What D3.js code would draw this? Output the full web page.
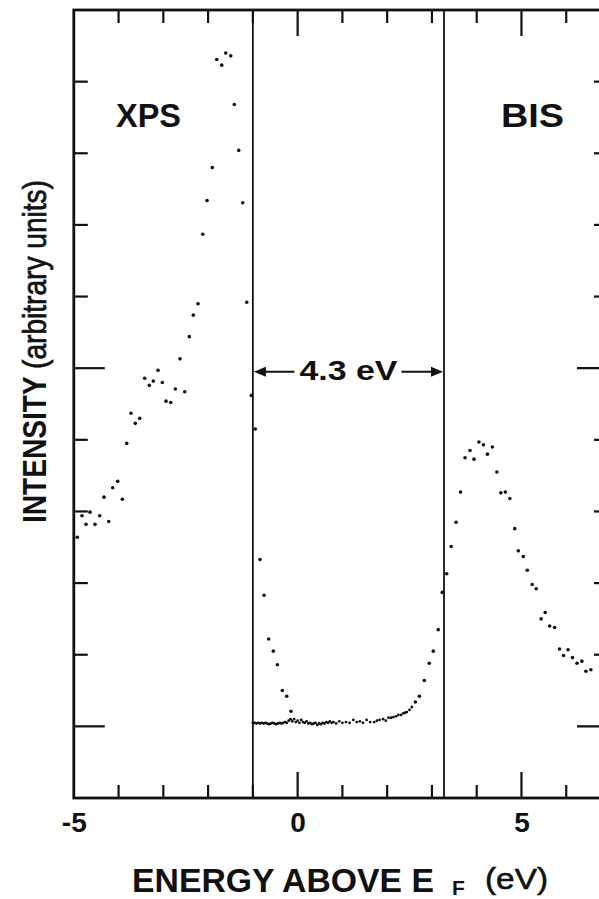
<!DOCTYPE html>
<html>
<head>
<meta charset="utf-8">
<script src="https://cdn.jsdelivr.net/npm/d3@7"></script>
<style>
  html, body { margin: 0; padding: 0; background: #fff; }
  svg { display: block; }
  text { font-family: "Liberation Sans", Arial, sans-serif; font-weight: bold; fill: #111; }
</style>
</head>
<body>
<svg id="chart" width="599" height="899"></svg>
<script>
// ---------- data ----------
const xpsE = [-4.922,-4.817,-4.727,-4.638,-4.526,-4.421,-4.325,-4.220,-4.131,-4.019,-3.916,-3.818,-3.722,-3.626,-3.528,-3.416,-3.313,-3.224,-3.118,-3.023,-2.940,-2.835,-2.732,-2.627,-2.522,-2.420,-2.330,-2.225,-2.120,-2.024,-1.906,-1.807,-1.696,-1.606,-1.495,-1.414,-1.316,-1.227,-1.137,-1.034,-0.945,-0.840,-0.750,-0.646,-0.543,-0.453,-0.342,-0.244,-0.150];
const xpsI = [3.64,3.94,3.82,3.99,3.82,3.94,4.20,3.86,4.33,4.42,4.17,4.95,5.37,5.23,5.30,5.86,5.76,5.82,5.97,5.80,5.54,5.52,5.71,6.13,5.67,6.44,6.74,6.90,7.87,8.34,8.80,10.31,10.23,10.40,10.36,9.68,9.04,8.31,6.92,5.62,5.15,3.33,2.83,2.22,2.05,1.86,1.50,1.42,1.21];

const bisE = [-1.00,-0.96,-0.92,-0.88,-0.84,-0.80,-0.76,-0.72,-0.68,-0.64,-0.60,-0.56,-0.52,-0.48,-0.44,-0.40,-0.36,-0.32,-0.28,-0.24,-0.20,-0.16,-0.12,-0.08,-0.04,0.00,0.04,0.08,0.12,0.16,0.20,0.24,0.28,0.32,0.36,0.40,0.44,0.48,0.52,0.56,0.60,0.64,0.68,0.72,0.76,0.80,0.86,0.93,1.00,1.08,1.16,1.245,1.32,1.39,1.46,1.54,1.62,1.71,1.77,1.83,1.91,1.97,2.03,2.09,2.14,2.20,2.25,2.31,2.36,2.40,2.44,2.50,2.55,2.63,2.72,2.83,2.94,3.03,3.14,3.23,3.33,3.43,3.54,3.64,3.74,3.85,3.94,4.05,4.15,4.24,4.35,4.45,4.54,4.64,4.74,4.85,4.93,5.04,5.13,5.24,5.33,5.44,5.53,5.63,5.74,5.85,5.94,6.04,6.14,6.24,6.35,6.44,6.55];
const bisI = [1.05,1.05,1.04,1.05,1.04,1.05,1.04,1.05,1.04,1.03,1.04,1.05,1.04,1.03,1.04,1.05,1.04,1.05,1.06,1.05,1.08,1.10,1.07,1.10,1.06,1.08,1.05,1.09,1.06,1.05,1.07,1.04,1.05,1.03,1.04,1.05,1.02,1.04,1.03,1.05,1.04,1.06,1.05,1.07,1.05,1.06,1.04,1.07,1.05,1.06,1.05,1.09,1.06,1.07,1.05,1.09,1.06,1.06,1.08,1.09,1.10,1.08,1.12,1.12,1.13,1.14,1.16,1.16,1.18,1.19,1.20,1.23,1.27,1.34,1.42,1.64,1.88,2.05,2.35,2.87,3.13,3.51,3.85,4.27,4.75,4.85,4.73,4.97,4.93,4.80,4.90,4.55,4.26,4.27,4.18,3.76,3.45,3.37,3.18,2.98,2.92,2.50,2.59,2.40,2.38,2.08,1.99,2.07,1.96,1.88,1.91,1.77,1.79];

const xTickValues = [-4,-3,-2,-1,0,1,2,3,4,5,6];
const xMajorTicks = [0,5];
const xTickLabels = [-5,0,5];
const yTickValues = [1,2,3,4,5,6,7,8,9,10];
const yMajorTicks = [1,6];
const dividers = [-1.0, 3.27];
const gapLabel = "4.3 eV";
const gapArrowLevel = 5.95;
const panelLabels = ["XPS","BIS"];

// ---------- layout ----------
const svg = d3.select("#chart");
const x = d3.scaleLinear().domain([-5, 7]).range([73.8, 611]);
const y = d3.scaleLinear().domain([0, 11]).range([798, 10]);
const X0 = x(-5), X1 = x(7), Y0 = y(0), Y1 = y(11);

const minorLen = 14, majorLen = 31;

// frame
svg.append("rect")
  .attr("x", X0).attr("y", Y1)
  .attr("width", X1 - X0).attr("height", Y0 - Y1)
  .attr("fill", "none").attr("stroke", "#111").attr("stroke-width", 2.8);

// x ticks (top and bottom)
const tickLen = v => xMajorTicks.includes(v) ? 26 : 13;
function xTicks(g, dir) {
  g.selectAll("line.t").data(xTickValues).join("line")
    .attr("x1", d => x(d)).attr("x2", d => x(d))
    .attr("y1", dir > 0 ? Y1 : Y0)
    .attr("y2", d => (dir > 0 ? Y1 + tickLen(d) : Y0 - tickLen(d)))
    .attr("stroke", "#111").attr("stroke-width", 2.2);
}
svg.append("g").call(xTicks, 1);
svg.append("g").call(xTicks, -1);

// y ticks (left and right)
const yLen = v => yMajorTicks.includes(v) ? majorLen : minorLen;
svg.append("g").selectAll("line").data(yTickValues).join("line")
  .attr("x1", X0).attr("x2", d => X0 + yLen(d))
  .attr("y1", d => y(d)).attr("y2", d => y(d))
  .attr("stroke", "#111").attr("stroke-width", 2.2);
svg.append("g").selectAll("line").data(yTickValues).join("line")
  .attr("x1", X1).attr("x2", d => X1 - yLen(d) - 3)
  .attr("y1", d => y(d)).attr("y2", d => y(d))
  .attr("stroke", "#111").attr("stroke-width", 2.2);

// bottom tick labels through a d3 axis (labels only)
const xAxis = d3.axisBottom(x).tickValues(xTickLabels).tickSize(0).tickPadding(0)
  .tickFormat(d => d < 0 ? "-" + Math.abs(d) : String(d));
const gx = svg.append("g").attr("transform", `translate(0,${Y0})`).call(xAxis);
gx.select(".domain").remove();
gx.selectAll("text")
  .attr("dy", null).attr("y", 34)
  .style("font-family", '"Liberation Sans", Arial, sans-serif')
  .style("font-weight", "bold").style("font-size", "28px").attr("fill", "#111");

// dividers
svg.append("g").selectAll("line").data(dividers).join("line")
  .attr("x1", d => x(d)).attr("x2", d => x(d))
  .attr("y1", Y1).attr("y2", Y0)
  .attr("stroke", "#111").attr("stroke-width", 1.8);

// data points
const xps = xpsE.map((e, i) => ({e, v: xpsI[i]}));
const bis = bisE.map((e, i) => ({e, v: bisI[i]}));
const clipId = "plotclip";
svg.append("clipPath").attr("id", clipId).append("rect")
  .attr("x", X0).attr("y", Y1).attr("width", X1 - X0).attr("height", Y0 - Y1);
const pts = svg.append("g").attr("clip-path", `url(#${clipId})`);
pts.selectAll("circle.xps").data(xps).join("circle").attr("class", "xps")
  .attr("cx", d => x(d.e)).attr("cy", d => y(d.v)).attr("r", 1.8).attr("fill", "#111");
pts.selectAll("circle.bis").data(bis).join("circle").attr("class", "bis")
  .attr("cx", d => x(d.e)).attr("cy", d => y(d.v))
  .attr("r", d => d.v < 1.3 ? 1.4 : 1.8).attr("fill", "#111");

// panel labels
svg.append("text").attr("x", 116).attr("y", 127)
  .attr("font-size", 33).attr("textLength", 65).attr("lengthAdjust", "spacingAndGlyphs")
  .text(panelLabels[0]);
svg.append("text").attr("x", 501).attr("y", 127)
  .attr("font-size", 33).attr("textLength", 63).attr("lengthAdjust", "spacingAndGlyphs")
  .text(panelLabels[1]);

// gap annotation
const ay = y(gapArrowLevel);
const cx = (x(dividers[0]) + x(dividers[1])) / 2;
const halfT = 49;
svg.append("text").attr("x", cx - halfT).attr("y", ay + 8.5)
  .attr("font-size", 27).attr("textLength", 98).attr("lengthAdjust", "spacingAndGlyphs")
  .text(gapLabel);
const arrowG = svg.append("g").attr("stroke", "#111").attr("stroke-width", 2);
arrowG.append("line").attr("x1", x(dividers[0]) + 8).attr("x2", cx - halfT - 5).attr("y1", ay).attr("y2", ay);
arrowG.append("line").attr("x1", cx + halfT + 4).attr("x2", x(dividers[1]) - 8).attr("y1", ay).attr("y2", ay);
const xl = x(dividers[0]) + 1, xr = x(dividers[1]) - 1;
svg.append("path").attr("d", `M${xl},${ay} L${xl + 12},${ay - 5} L${xl + 12},${ay + 5} Z`).attr("fill", "#111");
svg.append("path").attr("d", `M${xr},${ay} L${xr - 12},${ay - 5} L${xr - 12},${ay + 5} Z`).attr("fill", "#111");

// axis titles
svg.append("text").attr("x", 132).attr("y", 892).attr("font-size", 33)
  .attr("textLength", 302).attr("lengthAdjust", "spacingAndGlyphs").text("ENERGY ABOVE E");
svg.append("text").attr("x", 452).attr("y", 895).attr("font-size", 21).text("F");
svg.append("text").attr("x", 485).attr("y", 889).attr("font-size", 30)
  .style("font-weight", "normal").attr("stroke", "#111").attr("stroke-width", 0.6)
  .attr("textLength", 63).attr("lengthAdjust", "spacingAndGlyphs").text("(eV)");

const yTitle = svg.append("text")
  .attr("transform", "translate(46,523) rotate(-90)")
  .style("font-family", '"Liberation Sans Narrow", "Liberation Sans", Arial, sans-serif')
  .attr("font-size", 33).attr("textLength", 343).attr("lengthAdjust", "spacingAndGlyphs");
yTitle.append("tspan").text("INTENSITY ");
yTitle.append("tspan").style("font-weight", "normal").attr("stroke", "#111").attr("stroke-width", 0.7)
  .text("(arbitrary units)");
</script>
</body>
</html>
